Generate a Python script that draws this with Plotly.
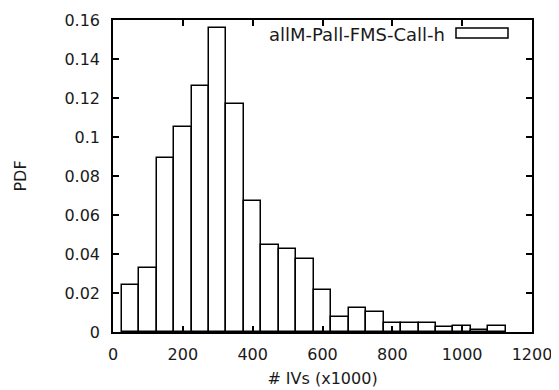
import plotly.graph_objects as go

# Histogram bins (centers, x1000 IVs) and PDF values
bin_centers = [50, 100, 150, 200, 250, 300, 350, 400, 450, 500, 550,
               600, 650, 700, 750, 800, 850, 900, 950, 1000, 1050, 1100]
pdf_values = [0.024, 0.033, 0.089, 0.105, 0.126, 0.156, 0.117, 0.067, 0.0446, 0.0427, 0.0373,
              0.0215, 0.0079, 0.0125, 0.0101, 0.0045, 0.0045, 0.0048, 0.0027, 0.0031, 0.0010, 0.0031]
bin_width = 50
series_name = "allM-Pall-FMS-Call-h"

x_ticks = [0, 200, 400, 600, 800, 1000, 1200]
y_ticks = [0, 0.02, 0.04, 0.06, 0.08, 0.1, 0.12, 0.14, 0.16]
y_tick_text = ["0", "0.02", "0.04", "0.06", "0.08", "0.1", "0.12", "0.14", "0.16"]

FONT = "DejaVu Sans"
INK = "#1a1a1a"

fig = go.Figure()
fig.add_trace(go.Bar(
    x=bin_centers, y=pdf_values, width=[bin_width] * len(bin_centers),
    marker=dict(color="white", line=dict(color="black", width=1.5)),
    name=series_name, showlegend=False,
))

axis_common = dict(
    showline=True, linecolor="black", linewidth=1.5, mirror="ticks",
    ticks="inside", ticklen=6, tickwidth=1.5, tickcolor="black",
    showgrid=False, zeroline=False, automargin=False,
    tickfont=dict(family=FONT, size=16, color=INK),
)

fig.update_xaxes(range=[0, 1200], tickvals=x_ticks, ticktext=[str(v) for v in x_ticks],
                 title=dict(text="# IVs (x1000)", font=dict(family=FONT, size=16, color=INK), standoff=10),
                 ticklabelstandoff=7, **axis_common)
fig.update_yaxes(range=[0, 0.16], tickvals=y_ticks, ticktext=y_tick_text,
                 title=dict(text="PDF", font=dict(family=FONT, size=16, color=INK), standoff=34),
                 ticklabelstandoff=8, **axis_common)

# Legend drawn as key text + sample box (gnuplot style)
fig.add_annotation(xref="paper", yref="paper", x=0.797, y=0.953, xanchor="right", yanchor="middle",
                   text=series_name, showarrow=False, font=dict(family=FONT, size=18, color=INK))
fig.add_shape(type="rect", xref="paper", yref="paper", x0=0.8186, x1=0.9427, y0=0.942, y1=0.974,
              line=dict(color="black", width=1.5), fillcolor="white")

# Page body adds an 8px offset, so the figure is 8px smaller and margins compensate
fig.update_layout(
    width=551, height=382,
    margin=dict(l=105, r=27, t=12, b=58),
    plot_bgcolor="white", paper_bgcolor="white",
    bargap=0,
)

fig.write_html("out.html")
